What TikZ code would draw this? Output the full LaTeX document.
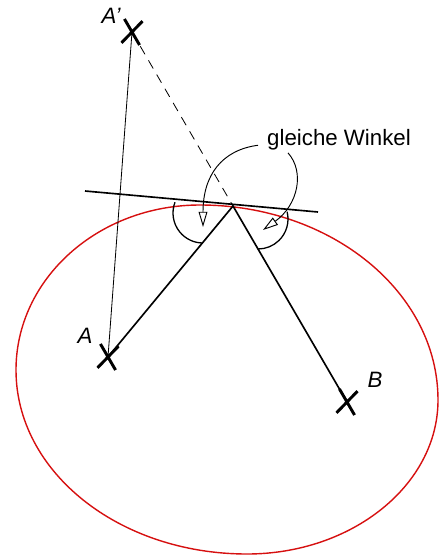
\documentclass[tikz,border=0pt]{standalone}
\usepackage{fontspec}
\setmainfont{Liberation Sans}
\usetikzlibrary{arrows.meta,shapes.misc}
\definecolor{spiegelrot}{RGB}{214,16,16}

\begin{document}
\begin{tikzpicture}[x=0.03cm,y=-0.03cm,
  kreuz/.style={cross out,draw,line width=2.5pt,minimum width=13pt,minimum height=18pt,inner sep=0pt,rotate=-7},
  lbl/.style={font=\fontsize{19}{23}\selectfont,anchor=base,inner sep=0pt},
  strahl/.style={line width=1.4pt},
  hilf/.style={line width=0.7pt},
  winkel/.style={line width=1.1pt},
  pfeil/.style={-{Triangle[open,length=13pt,width=7.5pt]},line width=0.8pt}]
  \useasboundingbox (0,0) rectangle (438,557);
  % Spiegel
  \draw[spiegelrot,line width=1.2pt] (200,205)
    .. controls (331,205) and (438,292) .. (438,400)
    .. controls (438,485) and (352,554) .. (247,554)
    .. controls (119,554) and (16,472) .. (16,370)
    .. controls (16,279) and (98,205) .. cycle;
  % Punkte
  \node[kreuz] (Ap) at (132,32) {};
  \node[kreuz] (A) at (108,357) {};
  \node[kreuz] (B) at (347,402) {};
  \coordinate (P) at (233,206);
  \coordinate (tl) at (85,191);
  \coordinate (tr) at (318,212);
  \node[lbl,font=\fontsize{19}{23}\selectfont\itshape] (lAp) at (111,23) {A’};
  \node[lbl,font=\fontsize{19}{23}\selectfont\itshape] (lA) at (85,343) {A};
  \node[lbl,font=\fontsize{19}{23}\selectfont\itshape] (lB) at (375,387) {B};
  \node[lbl] (gw) at (339,145) {gleiche Winkel};
  % Strahlen
  \draw[hilf] (Ap.center) -- (A.center);
  \draw[hilf,dash pattern=on 8pt off 6pt] (Ap.center) -- (P);
  \draw[strahl] (tl) -- (tr);
  \draw[strahl] (A.center) -- (P) -- (B.center);
  % Winkel
  \coordinate (wl) at (203,213);
  \coordinate (wr) at (258,219);
  \draw[winkel] ([shift={(201:30)}]wl) arc[start angle=201,end angle=90,radius=30];
  \draw[winkel] ([shift={(-14:30)}]wr) arc[start angle=-14,end angle=90,radius=30];
  \draw[pfeil] ([shift={(-9,6)}]gw.west) .. controls (222,150) and (203,175) .. (203,227);
  \draw[pfeil] ([shift={(21,3)}]gw.south west) .. controls (305,172) and (298,205) .. (263,230);
\end{tikzpicture}
\end{document}
